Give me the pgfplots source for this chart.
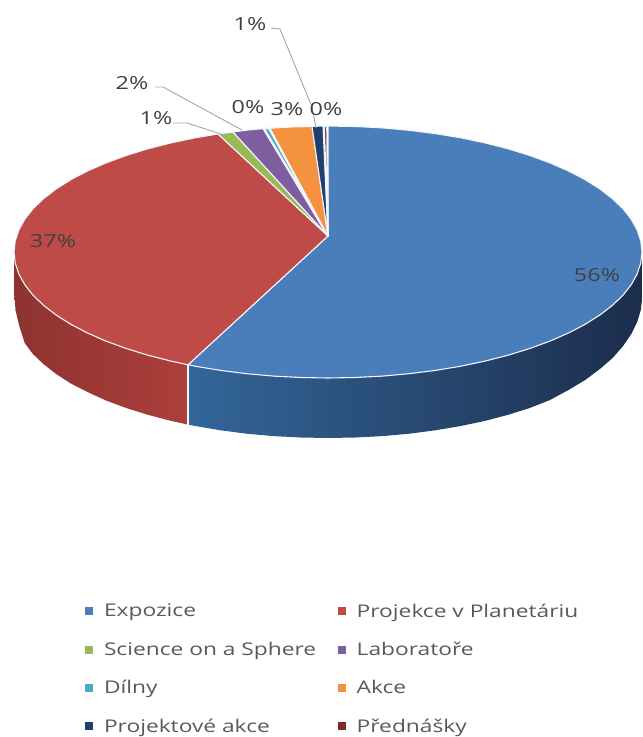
\documentclass[border=0pt]{standalone}
\usepackage{fontspec}
\setmainfont[FakeStretch=1.3]{Open Sans}
\usepackage{pgfplots}
\pgfplotsset{compat=1.18}
\definecolor{cExpo}{HTML}{4A7EBB}
\definecolor{cProj}{HTML}{BE4B48}
\definecolor{cSci}{HTML}{98B954}
\definecolor{cLab}{HTML}{7D5FA0}
\definecolor{cDil}{HTML}{46AAC5}
\definecolor{cAkce}{HTML}{F59240}
\definecolor{cPAk}{HTML}{1F3F6E}
\definecolor{cPre}{HTML}{772C2A}
\definecolor{sideBlueL}{HTML}{336699}
\definecolor{sideBlueM}{HTML}{1F3558}
\definecolor{sideBlueR}{HTML}{1C2D4C}
\definecolor{sideRedL}{HTML}{8E3330}
\definecolor{sideRedR}{HTML}{AC3F3B}
\definecolor{rimc}{HTML}{F2F5FA}
\definecolor{leader}{HTML}{A6A6A6}
\definecolor{txt}{HTML}{595959}
\definecolor{lab}{HTML}{404040}
\tikzset{
  wedge/.style={draw=rimc, line width=1.1pt, line join=round},
  labelnode/.style={text=lab, font=\fontsize{18}{20}\selectfont, inner sep=0pt},
}
\begin{document}
\begin{tikzpicture}
\begin{axis}[
  scale only axis, width=642pt, height=737pt,
  xmin=0, xmax=642, ymin=0, ymax=737, y dir=reverse,
  hide axis, clip=false, no markers,
  legend columns=2,
  legend image code/.code={\fill[#1,draw=none] (0pt,-4pt) rectangle (8pt,4pt);},
  legend style={
    at={(0.1324,0.003)}, anchor=south west, draw=none, fill=none,
    font=\fontsize{17.5}{20}\selectfont, text=txt,
    row sep=21.5pt, inner sep=0pt, outer sep=0pt,
    nodes={inner sep=1pt, anchor=west},
    /tikz/column 1/.style={column sep=10pt},
    /tikz/column 2/.style={column sep=20.5pt},
    /tikz/column 3/.style={column sep=10pt},
  },
]
% canvas extent
\addplot[draw=none, forget plot] coordinates {(0,0) (642,737)};

% rim of the disc
\addplot[forget plot, draw=none, left color=sideBlueL, middle color=sideBlueM, right color=sideBlueR]
  coordinates {
  (188,364.8) (195.3,366.2) (220.6,370.4) (246.7,373.7) (273.5,376.1) (300.6,377.5)
  (328,378) (355.4,377.5) (382.5,376.1) (409.3,373.7) (435.4,370.4) (460.7,366.2)
  (485,361.1) (508.1,355.2) (529.8,348.5) (550,341.1) (568.5,333) (585.2,324.3)
  (599.9,315) (612.6,305.2) (623.1,295.1) (631.3,284.6) (637.2,273.9) (640.8,263) (642,252)
  (642,300) (640.8,310) (637.2,322) (631.3,334) (623.1,346) (612.6,358) (599.9,369)
  (585.2,380) (568.5,390) (550,400) (529.8,408) (508.1,414.8) (485,420.9) (460.7,426)
  (435.4,430.3) (409.3,433.7) (382.5,436.1) (355.4,437.5) (328,438) (300.6,437.5)
  (273.5,436.1) (246.7,433.7) (220.6,430.3) (195.3,426) (188,424.6)
  } -- cycle;
\addplot[forget plot, draw=none, left color=sideRedL, right color=sideRedR]
  coordinates {
  (188,364.8) (171,361.1) (147.9,355.2) (126.2,348.5) (106,341.1) (87.5,333)
  (70.8,324.3) (56.1,315) (43.4,305.2) (32.9,295.1) (24.7,284.6) (18.8,273.9)
  (15.2,263) (14,252)
  (14,290) (15.5,310) (19,325) (24.7,343) (32.9,354) (43.4,364) (56.1,374)
  (70.8,383.5) (87.5,392) (106,400.5) (126.2,408) (147.9,414.8) (171,420.9) (188,424.6)
  } -- cycle;
\addplot[forget plot, draw=rimc, line width=1.1pt] coordinates {(188,364.8) (188,424.6)};

% top face, one wedge per category
\addplot[wedge, fill=cExpo] coordinates {
  (328,236) (328,126) (355.4,126.5) (382.5,127.9) (409.3,130.3) (435.4,133.6) (460.7,137.8)
  (485,142.9) (508.1,148.8) (529.8,155.5) (550,162.9) (568.5,171) (585.2,179.7)
  (599.9,189) (612.6,198.8) (623.1,208.9) (631.3,219.4) (637.2,230.1) (640.8,241) (642,252)
  (640.8,263) (637.2,273.9) (631.3,284.6) (623.1,295.1) (612.6,305.2) (599.9,315)
  (585.2,324.3) (568.5,333) (550,341.1) (529.8,348.5) (508.1,355.2) (485,361.1)
  (460.7,366.2) (435.4,370.4) (409.3,373.7) (382.5,376.1) (355.4,377.5) (328,378)
  (300.6,377.5) (273.5,376.1) (246.7,373.7) (220.6,370.4) (195.3,366.2) (188,364.8)
  } -- cycle;
\addlegendentry{Expozice}
\addplot[wedge, fill=cProj] coordinates {
  (328,236) (188,364.8) (171,361.1) (147.9,355.2) (126.2,348.5) (106,341.1) (87.5,333)
  (70.8,324.3) (56.1,315) (43.4,305.2) (32.9,295.1) (24.7,284.6) (18.8,273.9)
  (15.2,263) (14,252) (15.2,241) (18.8,230.1) (24.7,219.4) (32.9,208.9) (43.4,198.8)
  (56.1,189) (70.8,179.7) (87.5,171) (106,162.9) (126.2,155.5) (147.9,148.8)
  (171,142.9) (195.3,137.8) (218,134)
  } -- cycle;
\addlegendentry{Projekce v Planetáriu}
\addplot[wedge, fill=cSci] coordinates {(328,236) (218,134) (233,132)} -- cycle;
\addlegendentry{Science on a Sphere}
\addplot[wedge, fill=cLab] coordinates {(328,236) (233,132) (248,130) (263,128.7)} -- cycle;
\addlegendentry{Laboratoře}
\addplot[wedge, line width=2pt, fill=cDil] coordinates {(328,236) (264,128.6) (269,128.3)} -- cycle;
\addlegendentry{Dílny}
\addplot[wedge, fill=cAkce] coordinates {(328,236) (270,128.2) (292,127) (312,126.4)} -- cycle;
\addlegendentry{Akce}
\addplot[wedge, fill=cPAk] coordinates {(328,236) (312,126.4) (323,126)} -- cycle;
\addlegendentry{Projektové akce}
\addplot[wedge, line width=1.6pt, fill=cPre] coordinates {(328,236) (324,126) (327,126)} -- cycle;
\addlegendentry{Přednášky}

% leader lines of the small slices
\addplot[forget plot, leader, line width=0.9pt] coordinates {(271,28) (280,29) (312,107) (316,128)};
\addplot[forget plot, leader, line width=0.9pt] coordinates {(155,87) (163,87) (242,130)};
\addplot[forget plot, leader, line width=0.9pt] coordinates {(173,123) (187,123) (224,135)};

% percentage labels
\node[labelnode] at (axis cs:597,275) {56\%};
\node[labelnode] at (axis cs:53,241) {37\%};
\node[labelnode] at (axis cs:250,24) {1\%};
\node[labelnode] at (axis cs:132,83) {2\%};
\node[labelnode] at (axis cs:156,118) {1\%};
\node[labelnode] at (axis cs:248,107) {0\%};
\node[labelnode] at (axis cs:287,109) {3\%};
\node[labelnode] at (axis cs:326,109) {0\%};
\end{axis}
\end{tikzpicture}
\end{document}
